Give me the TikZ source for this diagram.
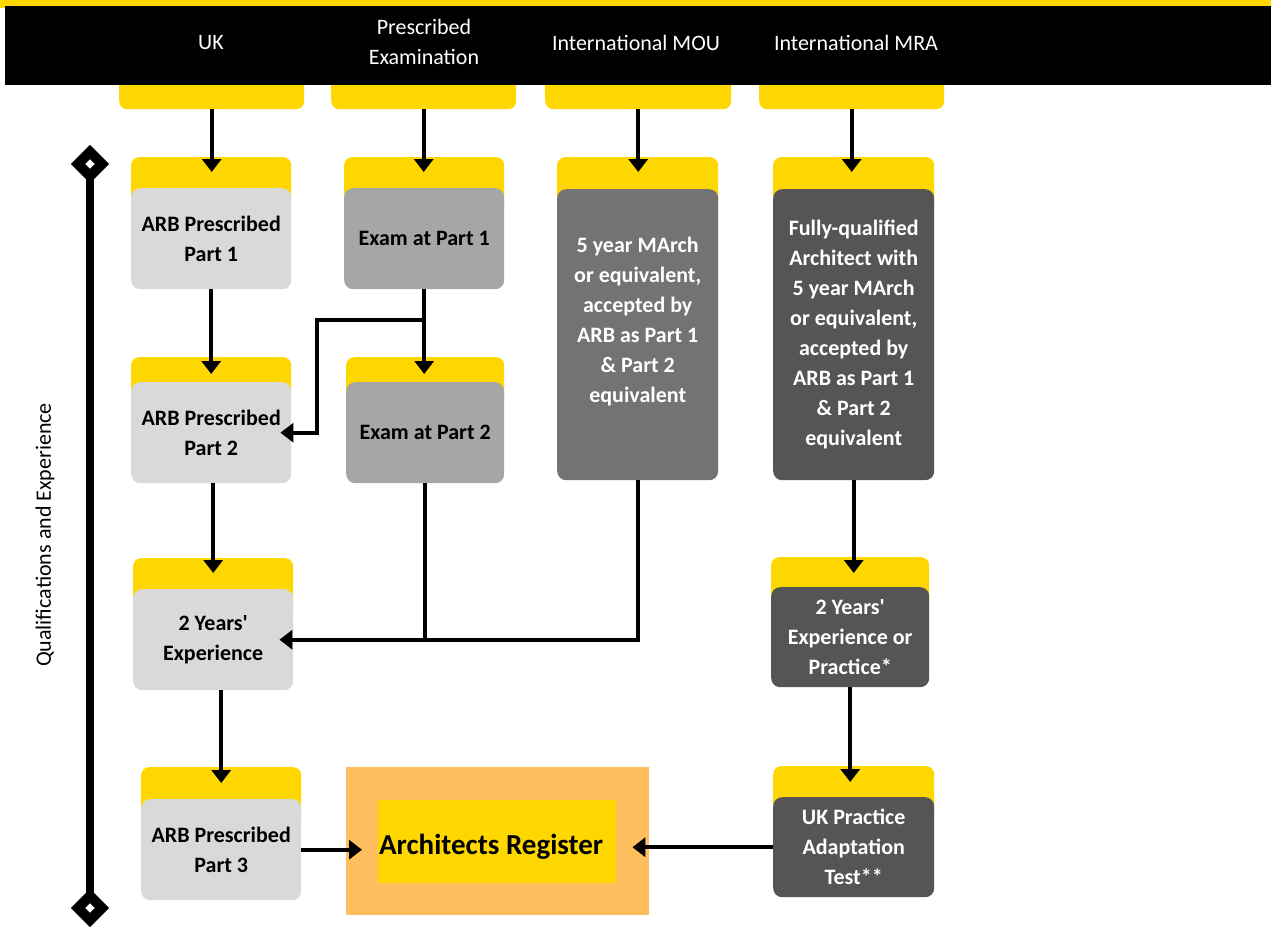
\documentclass[tikz,border=0pt]{standalone}
\usepackage{fontspec}
\setmainfont{Carlito}
\usetikzlibrary{arrows.meta,calc}
\definecolor{ylw}{RGB}{255,215,0}
\definecolor{gA}{RGB}{217,217,217}
\definecolor{gB}{RGB}{166,166,166}
\definecolor{gC}{RGB}{115,115,115}
\definecolor{gD}{RGB}{85,85,85}
\definecolor{org}{RGB}{255,191,95}
\begin{document}
\begin{tikzpicture}[x=1pt,y=-1pt,
  tab/.style={fill=ylw, rounded corners=8pt, inner sep=0pt, anchor=north west},
  stage/.style={rounded corners=9pt, inner sep=0pt, anchor=north west, align=center,
    font=\bfseries\fontsize{22}{30}\selectfont},
  hdr/.style={text=white, align=center, font=\fontsize{22}{30}\selectfont},
  ln/.style={line width=4pt},
  arr/.style={line width=4pt, -{Triangle[width=19pt,length=13pt]}}
]
\useasboundingbox (0,0) rectangle (1271,932);
% header
\fill[ylw] (0,0) rectangle (1271,8);
\node[tab, minimum width=185, minimum height=45] (t1) at (119,64) {};
\node[tab, minimum width=185, minimum height=45] (t2) at (331,64) {};
\node[tab, minimum width=186, minimum height=45] (t3) at (545,64) {};
\node[tab, minimum width=185, minimum height=45] (t4) at (759,64) {};
\node[fill=black, minimum width=1266, minimum height=79, inner sep=0pt, anchor=north west] (bar) at (5,6) {};
\node[hdr] (h1) at (211,43) {UK};
\node[hdr] (h2) at (424,42) {Prescribed\\Examination};
\node[hdr] (h3) at (636,43) {International MOU};
\node[hdr] (h4) at (856,43) {International MRA};
% timeline
\draw[line width=8pt] (90,164) -- (90,908);
\draw[line width=10pt, fill=white] (90,152) -- (102,164) -- (90,176) -- (78,164) -- cycle;
\draw[line width=10pt, fill=white] (90,896) -- (102,908) -- (90,920) -- (78,908) -- cycle;
\node[rotate=90, font=\fontsize{22}{26}\selectfont] (ql) at (45,535) {Qualifications and Experience};
% row 1
\node[tab, minimum width=160, minimum height=61] (y1) at (131,157) {};
\node[stage, fill=gA, minimum width=160, minimum height=101] (b1) at (131,188) {ARB Prescribed\\Part 1};
\node[tab, minimum width=160, minimum height=61] (y2) at (344,157) {};
\node[stage, fill=gB, minimum width=160, minimum height=101] (b2) at (344,188) {Exam at Part 1};
\node[tab, minimum width=161, minimum height=62] (y3) at (557,157) {};
\node[stage, fill=gC, text=white, minimum width=161, minimum height=291] (b3) at (557,189) {5 year MArch\\or equivalent,\\accepted by\\ARB as Part 1\\\& Part 2\\equivalent\\\mbox{}};
\node[tab, minimum width=161, minimum height=62] (y4) at (773,157) {};
\node[stage, fill=gD, text=white, minimum width=161, minimum height=291] (b4) at (773,189) {Fully-qualified\\Architect with\\5 year MArch\\or equivalent,\\accepted by\\ARB as Part 1\\\& Part 2\\equivalent};
% row 2
\node[tab, minimum width=160, minimum height=55] (y5) at (131,357) {};
\node[stage, fill=gA, minimum width=160, minimum height=101] (b5) at (131,382) {ARB Prescribed\\Part 2};
\node[tab, minimum width=158, minimum height=55] (y6) at (346,357) {};
\node[stage, fill=gB, minimum width=158, minimum height=101] (b6) at (346,382) {Exam at Part 2};
% row 3
\node[tab, minimum width=160, minimum height=61] (y7) at (133,558) {};
\node[stage, fill=gA, minimum width=160, minimum height=101] (b7) at (133,589) {2 Years\textquotesingle\\Experience};
\node[tab, minimum width=158, minimum height=60] (y8) at (771,557) {};
\node[stage, fill=gD, text=white, minimum width=158, minimum height=100] (b8) at (771,587) {2 Years\textquotesingle\\Experience or\\Practice*};
% row 4
\node[tab, minimum width=160, minimum height=62] (y9) at (141,767) {};
\node[stage, fill=gA, minimum width=160, minimum height=101] (b9) at (141,799) {ARB Prescribed\\Part 3};
\node[tab, minimum width=161, minimum height=61] (y10) at (773,766) {};
\node[stage, fill=gD, text=white, minimum width=161, minimum height=100] (b10) at (773,797) {UK Practice\\Adaptation\\Test**};
\node[fill=org, minimum width=303, minimum height=148, inner sep=0pt, anchor=north west] (reg) at (346,767) {};
\node[fill=ylw, minimum width=238, minimum height=83, inner sep=0pt, anchor=north west] (regin) at (378,800) {};
\node[font=\bfseries\fontsize{29}{32}\selectfont, inner sep=0pt] (regtxt) at ($(regin.center)+(-6,5)$) {Architects Register};
% targets
\coordinate (e1) at ($(y1.north)+(0,15)$);
\coordinate (e2) at ($(y2.north)+(0,15)$);
\coordinate (e3) at ($(y3.north)+(0,15)$);
\coordinate (e4) at ($(y4.north)+(0,15)$);
\coordinate (e5) at ($(y5.north)+(0,17)$);
\coordinate (e6) at ($(y6.north)+(0,17)$);
\coordinate (e7) at ($(y7.north)+(0,15)$);
\coordinate (e8) at ($(y8.north)+(0,16)$);
\coordinate (e9) at ($(y9.north)+(0,16)$);
\coordinate (e10) at ($(y10.north)+(0,16)$);
\coordinate (k1) at ($(b5.east)+(-11,0)$);
\coordinate (k2) at ($(b7.east)+(-14,0)$);
% connectors
\draw[arr] (t1.south) -- (t1.south |- e1);
\draw[arr] (t2.south) -- (t2.south |- e2);
\draw[arr] (t3.south) -- (t3.south |- e3);
\draw[arr] (t4.south) -- (t4.south |- e4);
\draw[arr] (b1.south) -- (b1.south |- e5);
\draw[arr] (b2.south) -- (b2.south |- e6);
\coordinate (j1) at ($(b2.south)+(1,31)$);
\draw[arr] (j1) -- ($(j1)+(-108,0)$) |- (k1);
\draw[arr] (e7 |- b5.south) -- (e7);
\draw[ln] (b6.south) -- (b6.south |- k2);
\draw[arr] (b3.south) |- (k2);
\draw[arr] (e9 |- b7.south) -- (e9);
\draw[arr] (b4.south) -- (b4.south |- e8);
\draw[arr] (b8.south) -- (b8.south |- e10);
\draw[arr] (b9.east) -- ($(b9.east -| reg.west)+(16,0)$);
\draw[arr] (b10.west) -- ($(b10.west -| reg.east)+(-17,0)$);
\end{tikzpicture}
\end{document}
